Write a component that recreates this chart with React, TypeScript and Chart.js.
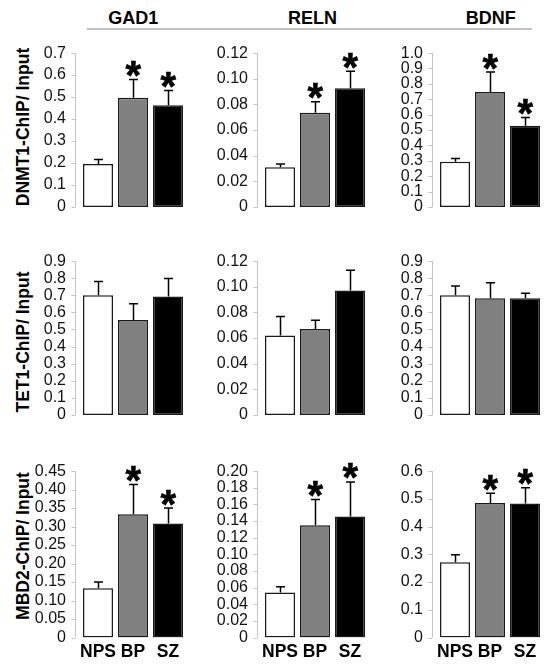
import React, { useEffect, useRef } from 'react';
import { Chart, registerables } from 'chart.js';

Chart.register(...registerables);

const FONT = '"Liberation Sans", Arial, Helvetica, sans-serif';

// ---------- data ----------
const groups = ['NPS', 'BP', 'SZ'];
const genes = ['GAD1', 'RELN', 'BDNF'];
const chipLabels = ['DNMT1-ChIP/ Input', 'TET1-ChIP/ Input', 'MBD2-ChIP/ Input'];

const dnmt1Gad1 = [0.195, 0.497, 0.463];
const dnmt1Gad1Sem = [0.021, 0.083, 0.067];
const dnmt1Reln = [0.031, 0.0735, 0.0925];
const dnmt1RelnSem = [0.0025, 0.0085, 0.0133];
const dnmt1Bdnf = [0.293, 0.747, 0.527];
const dnmt1BdnfSem = [0.021, 0.13, 0.055];

const tet1Gad1 = [0.7, 0.556, 0.693];
const tet1Gad1Sem = [0.08, 0.095, 0.105];
const tet1Reln = [0.062, 0.067, 0.097];
const tet1RelnSem = [0.0147, 0.0068, 0.0158];
const tet1Bdnf = [0.7, 0.683, 0.683];
const tet1BdnfSem = [0.055, 0.09, 0.029];

const mbd2Gad1 = [0.133, 0.333, 0.308];
const mbd2Gad1Sem = [0.017, 0.081, 0.042];
const mbd2Reln = [0.054, 0.135, 0.1455];
const mbd2RelnSem = [0.007, 0.031, 0.0415];
const mbd2Bdnf = [0.271, 0.485, 0.483];
const mbd2BdnfSem = [0.027, 0.035, 0.057];

const dnmt1Significant = [false, true, true];
const tet1Significant = [false, false, false];
const mbd2Significant = [false, true, true];

// y axis ticks: max, step, decimals for GAD1, RELN, BDNF
const dnmt1AxisMax = [0.7, 0.12, 1.0];
const dnmt1AxisStep = [0.1, 0.02, 0.1];
const dnmt1AxisDecimals = [1, 2, 1];
const tet1AxisMax = [0.9, 0.12, 0.9];
const tet1AxisStep = [0.1, 0.02, 0.1];
const tet1AxisDecimals = [1, 2, 1];
const mbd2AxisMax = [0.45, 0.2, 0.6];
const mbd2AxisStep = [0.05, 0.02, 0.1];
const mbd2AxisDecimals = [2, 2, 1];

const panelValues = [
  [dnmt1Gad1, dnmt1Reln, dnmt1Bdnf],
  [tet1Gad1, tet1Reln, tet1Bdnf],
  [mbd2Gad1, mbd2Reln, mbd2Bdnf],
];
const panelSems = [
  [dnmt1Gad1Sem, dnmt1RelnSem, dnmt1BdnfSem],
  [tet1Gad1Sem, tet1RelnSem, tet1BdnfSem],
  [mbd2Gad1Sem, mbd2RelnSem, mbd2BdnfSem],
];
const rowSignificant = [dnmt1Significant, tet1Significant, mbd2Significant];
const rowAxisMax = [dnmt1AxisMax, tet1AxisMax, mbd2AxisMax];
const rowAxisStep = [dnmt1AxisStep, tet1AxisStep, mbd2AxisStep];
const rowAxisDecimals = [dnmt1AxisDecimals, tet1AxisDecimals, mbd2AxisDecimals];

// ---------- styles / layout ----------
const barFill = ['#ffffff', '#808080', '#000000'];
const COL_AXIS_X = [75, 257, 432];
const ROW_TOP = [44.5, 252.5, 462];
const ROW_BOTTOM = [221, 428.5, 637.5];
const LABEL_W = 60;
const AXIS_GAP = 5.5;
const PLOT_W = 105;
const CANVAS_W = 175;
const TITLE_CX = [133.3, 312.5, 490.8];
const ROW_TITLE_CY = [126.5, 341.5, 546];

function makeOverlay(sems: number[], sig: boolean[]) {
  return {
    id: 'overlay',
    afterDatasetsDraw(chart: any) {
      const ctx: CanvasRenderingContext2D = chart.ctx;
      const y = chart.scales.y;
      const x0 = Math.round(chart.chartArea.left - AXIS_GAP) + 0.5;
      ctx.save();
      // axis line and tick marks
      ctx.strokeStyle = '#c4c4c4';
      ctx.lineWidth = 1;
      ctx.beginPath();
      ctx.moveTo(x0, y.getPixelForValue(y.max));
      ctx.lineTo(x0, y.getPixelForValue(0));
      y.ticks.forEach((t: any) => {
        const py = Math.round(y.getPixelForValue(t.value)) + 0.5;
        ctx.moveTo(x0 - 4, py);
        ctx.lineTo(x0, py);
      });
      ctx.stroke();
      // error bars + asterisks
      const meta = chart.getDatasetMeta(0);
      const data = chart.data.datasets[0].data as number[];
      meta.data.forEach((el: any, i: number) => {
        const cx = Math.round(el.x) + 0.5;
        const yTop = el.y;
        const yErr = y.getPixelForValue(data[i] + sems[i]);
        ctx.strokeStyle = '#000';
        ctx.lineWidth = 1.5;
        ctx.beginPath();
        ctx.moveTo(cx, yTop);
        ctx.lineTo(cx, yErr);
        ctx.moveTo(cx - 4.5, yErr);
        ctx.lineTo(cx + 4.5, yErr);
        ctx.stroke();
        if (sig[i]) {
          ctx.font = `bold 40px ${FONT}`;
          let m = ctx.measureText('*');
          const h0 = m.actualBoundingBoxAscent + m.actualBoundingBoxDescent;
          const size = (40 * 16) / (h0 || 14);
          ctx.font = `bold ${size}px ${FONT}`;
          m = ctx.measureText('*');
          ctx.textAlign = 'left';
          ctx.textBaseline = 'alphabetic';
          ctx.fillStyle = '#000';
          const bottom = yErr - 2.5;
          const baseline = bottom - m.actualBoundingBoxDescent;
          const xd = cx + (m.actualBoundingBoxLeft - m.actualBoundingBoxRight) / 2;
          ctx.fillText('*', xd, baseline);
          ctx.lineWidth = 0.6;
          ctx.strokeStyle = '#000';
          ctx.strokeText('*', xd, baseline);
        }
      });
      ctx.restore();
    },
  };
}

function Panel({ row, col }: { row: number; col: number }) {
  const ref = useRef<HTMLCanvasElement | null>(null);
  const isBottom = row === 2;
  const canvasLeft = COL_AXIS_X[col] - LABEL_W;
  const canvasTop = Math.floor(ROW_TOP[row]) - 15;
  const padTop = ROW_TOP[row] - canvasTop;
  const plotBottom = ROW_BOTTOM[row] - canvasTop;
  const xAxisH = isBottom ? 26 : 0;
  const canvasH = Math.ceil(plotBottom + (isBottom ? xAxisH : 10));
  const padBottom = canvasH - plotBottom - xAxisH;

  useEffect(() => {
    if (!ref.current) return;
    const values = panelValues[row][col];
    const sems = panelSems[row][col];
    const decimals = rowAxisDecimals[row][col];
    const chart = new Chart(ref.current, {
      type: 'bar',
      data: {
        labels: groups,
        datasets: [
          {
            data: values,
            backgroundColor: barFill,
            borderColor: '#1a1a1a',
            borderWidth: 1.5,
            borderSkipped: false,
            barPercentage: 30 / 35,
            categoryPercentage: 1,
          },
        ],
      },
      options: {
        animation: false,
        responsive: false,
        devicePixelRatio: 1,
        events: [],
        layout: {
          padding: {
            left: 0,
            right: CANVAS_W - LABEL_W - AXIS_GAP - PLOT_W,
            top: padTop,
            bottom: padBottom,
          },
        },
        plugins: { legend: { display: false }, tooltip: { enabled: false } },
        scales: {
          x: {
            display: isBottom,
            grid: { display: false, drawTicks: false },
            border: { display: false },
            ticks: {
              font: { family: FONT, size: 17.5, weight: 'bold' },
              color: '#000',
              padding: 4,
              maxRotation: 0,
              minRotation: 0,
              autoSkip: false,
            },
            afterFit: (s: any) => {
              s.height = xAxisH;
            },
          },
          y: {
            min: 0,
            max: rowAxisMax[row][col],
            grid: { display: false, drawTicks: false },
            border: { display: false },
            ticks: {
              stepSize: rowAxisStep[row][col],
              autoSkip: false,
              padding: 14.5,
              font: { family: FONT, size: 16 },
              color: '#111',
              callback: (v: any) => (Math.abs(Number(v)) < 1e-9 ? '0' : Number(v).toFixed(decimals)),
            },
            afterFit: (s: any) => {
              s.width = LABEL_W + AXIS_GAP;
            },
          },
        },
      } as any,
      plugins: [makeOverlay(sems, rowSignificant[row])],
    });
    return () => chart.destroy();
  }, [row, col]);

  return (
    <canvas
      ref={ref}
      width={CANVAS_W}
      height={canvasH}
      style={{ position: 'absolute', left: canvasLeft, top: canvasTop, width: CANVAS_W, height: canvasH }}
    />
  );
}

export default function App() {
  const textStyle: React.CSSProperties = {
    position: 'absolute',
    fontFamily: FONT,
    fontWeight: 'bold',
    fontSize: 17,
    lineHeight: '17px',
    color: '#000',
    whiteSpace: 'nowrap',
  };
  return (
    <div style={{ position: 'absolute', left: 0, top: 0, width: 549, height: 671, background: '#fff', overflow: 'hidden' }}>
      {genes.map((g, i) => (
        <div
          key={g}
          style={{ ...textStyle, fontSize: 18, lineHeight: '18px', left: TITLE_CX[i] - 50, top: 9, width: 100, textAlign: 'center' }}
        >
          {g}
        </div>
      ))}
      <div style={{ position: 'absolute', left: 87, top: 28, width: 445, height: 1.5, background: '#c2c2c2' }} />
      {chipLabels.map((t, i) => (
        <div
          key={t}
          style={{
            ...textStyle,
            fontSize: 17.5,
            left: 22.5,
            top: ROW_TITLE_CY[i],
            transform: 'translate(-50%, -50%) rotate(-90deg)',
          }}
        >
          {t}
        </div>
      ))}
      {[0, 1, 2].map((r) => [0, 1, 2].map((c) => <Panel key={`${r}-${c}`} row={r} col={c} />))}
    </div>
  );
}
